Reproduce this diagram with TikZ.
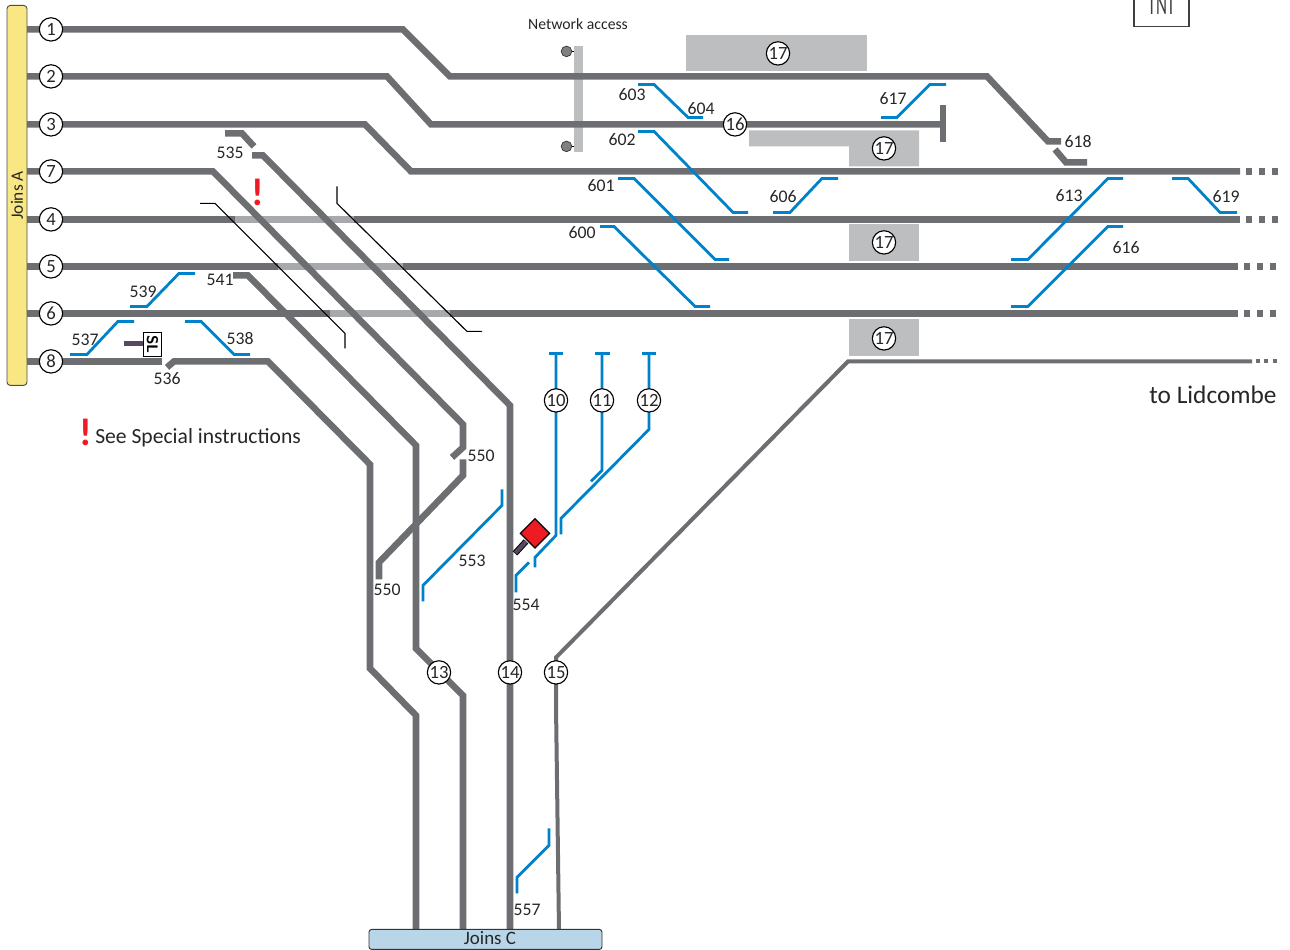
\documentclass[tikz,border=0pt]{standalone}
\usepackage{fontspec}
\setmainfont{Carlito}
\usetikzlibrary{positioning}
\definecolor{railgray}{HTML}{6D6E71}
\definecolor{fadegray}{HTML}{A7A9AC}
\definecolor{platgray}{HTML}{BCBEC0}
\definecolor{wireblue}{HTML}{0082CA}
\definecolor{joinyellow}{HTML}{F9E784}
\definecolor{joinblue}{HTML}{B9D5E8}
\definecolor{signalred}{HTML}{ED1C24}
\definecolor{postpurple}{HTML}{58485F}
\tikzset{
  Rail/.style={railgray,line width=4.9pt,line join=miter},
  ThinRail/.style={railgray,line width=3pt},
  Fade/.style={fadegray,line width=4.9pt},
  Points/.style={wireblue,line width=2.1pt},
  Guide/.style={black,line width=.85pt},
  Dots/.style={railgray,line width=4.9pt,dash pattern=on 4.6pt off 5pt},
  Plat/.style={fill=platgray,draw=none},
  Track/.style={circle,draw=black,fill=white,line width=.85pt,minimum size=17.5pt,inner sep=0pt,font=\fontsize{14}{14}\selectfont,text=black!85},
  Num/.style={inner sep=0pt,font=\fontsize{13.3}{14}\selectfont,text=black!85},
  Warn/.style={inner sep=0pt,text=signalred,font=\fontsize{29}{29}\selectfont\bfseries}
}
\begin{document}
\begin{tikzpicture}[x=.75pt,y=-.75pt]
\useasboundingbox (0,-.4) rectangle (1290,949.6);

%Bahnsteige
\node[Plat,minimum width=135.75pt,minimum height=27pt,inner sep=0pt] (P1) at (776.5,53) {};
\fill[platgray] (749,130) -- (919,130) -- (919,166) -- (849,166) -- (849,146) -- (749,146) -- cycle;
\node[Plat,minimum width=52.5pt,minimum height=27.75pt,inner sep=0pt] (P3) at (884,242.5) {};
\node[Plat,minimum width=52.5pt,minimum height=27.75pt,inner sep=0pt] (P4) at (884,337.5) {};
\node[Plat,minimum width=6.75pt,minimum height=79.5pt,inner sep=0pt] (Bar) at (578.5,99) {};

%Kopfblock oben rechts
\draw[black!75,line width=.85pt] (1134,-12) rectangle (1189,26);
\node[anchor=base,inner sep=0pt,font=\fontsize{15}{15}\selectfont,text=black!75] (TNT) at (1161.5,14) {\scalebox{.85}[1.5]{TNT}};

%Anschluesse
\coordinate (A1) at (27,29);
\coordinate (A2) at (27,76);
\coordinate (A3) at (27,124);
\coordinate (A7) at (27,171);
\coordinate (A4) at (27,219);
\coordinate (A5) at (27,266);
\coordinate (A6) at (27,313);
\coordinate (A8) at (27,361);
\coordinate (E3) at (1240,171);
\coordinate (E4) at (1240,219);
\coordinate (E5) at (1238,266);
\coordinate (E6) at (1238,313);

%Gleise waagerecht
\draw[Rail] (A4) -- (235,219);
\draw[Fade] (235,219) -- (354,219);
\draw[Rail] (354,219) -- (E4);
\draw[Rail] (A5) -- (278,266);
\draw[Fade] (278,266) -- (403,266);
\draw[Rail] (403,266) -- (E5);
\draw[Rail] (A6) -- (330,313);
\draw[Fade] (330,313) -- (450,313);
\draw[Rail] (450,313) -- (E6);
\draw[Rail] (A1) -- (403,29) -- (450,76) -- (987,76) -- (1048,141) -- (1061,141);
\draw[Rail] (1055,149) -- (1066,162) -- (1087,162);
\draw[Rail] (A2) -- (387,76) -- (431,124) -- (943,124);
\draw[Rail] (943,105) -- (943,142);
\draw[Rail] (A3) -- (365,124) -- (411,171) -- (E3);
\draw[Dots] (1246,171) -- (1278,171);
\draw[Dots] (1246,219) -- (1278,219);
\draw[Dots] (1244,266) -- (1278,266);
\draw[Dots] (1244,313) -- (1278,313);

%Gleise schraeg
\draw[Rail] (A7) -- (213,171) -- (463,424) -- (463,447) -- (452,457);
\draw[Rail] (463,459) -- (463,475) -- (379,562) -- (379,579);
\draw[Rail] (225,133) -- (242,133) -- (254,146);
\draw[Rail] (252,155) -- (263,155) -- (510,405) -- (510,930);
\draw[Rail] (233,275) -- (248,275) -- (416,445) -- (416,648) -- (463,695) -- (463,930);
\draw[Rail] (A8) -- (162,361);
\draw[Rail] (167,367) -- (174,361) -- (268,361) -- (370,464) -- (370,668) -- (416,715) -- (416,930);
\draw[ThinRail] (1252,361) -- (848,361) -- (556,657) -- (556,705) -- (559,930);
\draw[railgray,line width=3.6pt] (556,680) -- (556,705);
\draw[railgray,line width=3pt,dash pattern=on 3pt off 3.2pt] (1256,361) -- (1278,361);

%Hilfslinien
\draw[Guide] (200,203) -- (215,203) -- (345,333) -- (345,348);
\draw[Guide] (337,186) -- (337,203) -- (467,331) -- (482,331);

%Weichen
\draw[Points] (638,84) -- (654,84) -- (688,117) -- (703,117);
\draw[Points] (638,131) -- (654,131) -- (733,212) -- (748,212);
\draw[Points] (618,178) -- (634,178) -- (715,259) -- (729,259);
\draw[Points] (600,226) -- (614,226) -- (695,306) -- (710,306);
\draw[Points] (773,212) -- (790,212) -- (822,178) -- (838,178);
\draw[Points] (881,117) -- (897,117) -- (930,84) -- (946,84);
\draw[Points] (1011,259) -- (1028,259) -- (1108,178) -- (1123,178);
\draw[Points] (1011,306) -- (1028,306) -- (1108,226) -- (1123,226);
\draw[Points] (1172,178) -- (1188,178) -- (1220,212) -- (1237,212);
\draw[Points] (130,306) -- (147,306) -- (179,273) -- (195,273);
\draw[Points] (70,354) -- (87,354) -- (118,321) -- (134,321);
\draw[Points] (185,321) -- (201,321) -- (234,354) -- (250,354);
\draw[Points] (549,353) -- (563,353);
\draw[Points] (595,353) -- (610,353);
\draw[Points] (642,353) -- (656,353);
\draw[Points] (556,353) -- (556,535) -- (535,557) -- (535,567);
\draw[Points] (602,353) -- (602,470) -- (591,481);
\draw[Points] (649,353) -- (649,429) -- (561,518) -- (561,534);
\draw[Points] (502,489) -- (502,505) -- (423,585) -- (423,601);
\draw[Points] (529,562) -- (516,575) -- (516,592);
\draw[Points] (549,828) -- (549,845) -- (517,877) -- (517,893);

%Netzzugang
\node[circle,draw=black!80,fill=black!50,line width=.5pt,minimum size=8pt,inner sep=0pt] (Sa) at (566.5,51) {};
\node[circle,draw=black!80,fill=black!50,line width=.5pt,minimum size=8pt,inner sep=0pt] (Sb) at (566.5,146) {};
\draw[black,line width=.5pt] (Sa) -- (Sa -| Bar.west);
\draw[black,line width=.5pt] (Sb) -- (Sb -| Bar.west);

%Gleisnummern
\foreach \name/\x/\y in {1/51/29,2/51/76,3/51/124,7/51/171,4/51/219,5/51/266,6/51/313,8/51/361,
  10/556/400,11/602/400,12/649/400,13/439/672,14/510/672,15/556/672,16/735/124}
  \node[Track] (T\name) at (\x,\y) {\name};
\foreach \name/\x/\y in {a/778/53,b/884/148,c/884/242,d/884/338}
  \node[Track] (Q\name) at (\x,\y) {17};

%Weichennummern
\foreach \name/\txt/\x/\y in {a/535/230/152,b/539/143/291,c/541/220/279,d/537/85/339,e/538/240/338,f/536/167/378,
  g/550/481/455,h/550/387/589,i/553/472/560,j/554/526/604,k/557/527/909,l/603/632/94,m/604/701/108,
  n/602/622/139,o/601/601/185,p/600/582/232,q/606/783/196,r/617/893/98,s/618/1078/141,t/613/1069/195,
  u/616/1126/247,v/619/1226/196}
  \node[Num] (N\name) at (\x,\y) {\txt};

%Signale
\draw[black,line width=4.6pt] (515,553) -- (526,541);
\draw[postpurple,line width=3.1pt] (515.5,552.5) -- (526,541);
\node[rectangle,rotate=45,draw=black,fill=signalred,line width=.85pt,minimum size=15.5pt,inner sep=0pt] (Red) at (535,533) {};
\draw[postpurple,line width=4pt] (124,343) -- (143,343);
\node[rectangle,draw=black,fill=white,line width=.85pt,minimum width=13.5pt,minimum height=18pt,inner sep=0pt] (SL) at (152.5,344) {\rotatebox{-90}{\sffamily\bfseries\fontsize{11.5}{12}\selectfont SL}};

%Anschlussbloecke
\node[draw=black!70,fill=joinyellow,rounded corners=2.5pt,line width=.7pt,minimum width=15pt,minimum height=285pt,inner sep=0pt] (JoinA) at (17,195) {};
\node[rotate=90,inner sep=0pt,font=\fontsize{13}{14}\selectfont,text=black!85] (JoinAt) at (17,195) {Joins A};
\node[draw=black!80,fill=joinblue,rounded corners=2pt,line width=.7pt,minimum width=174.75pt,minimum height=15pt,inner sep=0pt] (JoinC) at (485.5,939) {};
\node[inner sep=0pt,font=\fontsize{14.2}{15}\selectfont,text=black!85] (JoinCt) at (490,938) {Joins C};

%Texte
\node[inner sep=0pt,font=\fontsize{11.8}{14}\selectfont,text=black!85] (Net) at (578,24) {Network access};
\node[inner sep=0pt,font=\fontsize{19}{20}\selectfont,text=black!85] (Lid) at (1213,394) {to Lidcombe};
\node[Warn] (Wa) at (258,192) {!};
\node[Warn] (Wb) at (86,432) {!};
\node[inner sep=0pt,anchor=west,font=\fontsize{16.2}{18}\selectfont,text=black!85] (Spec) at (95,437) {See Special instructions};
\end{tikzpicture}
\end{document}
